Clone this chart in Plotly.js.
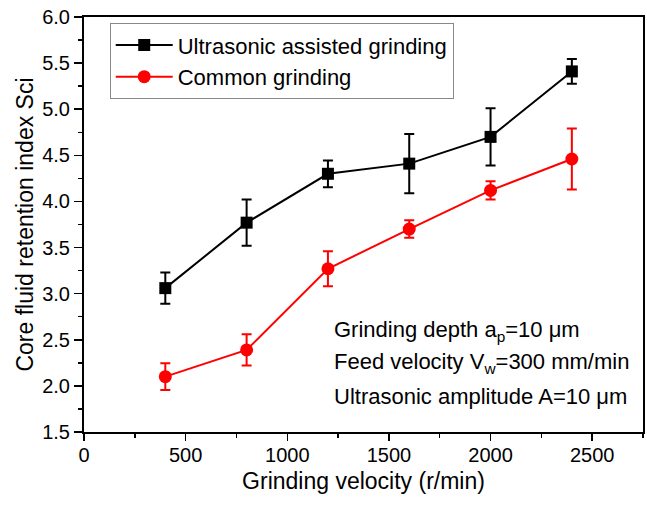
<!DOCTYPE html>
<html>
<head>
<meta charset="utf-8">
<script src="https://cdn.plot.ly/plotly-3.0.1.min.js"></script>
<style>
html, body { margin: 0; padding: 0; background: #fff; }
#chart { width: 647px; height: 505px; }
</style>
</head>
<body>
<div id="chart"></div>
<script>
// Data
const velocity = [400, 800, 1200, 1600, 2000, 2400];
const ultrasonicSci = [3.06, 3.77, 4.30, 4.41, 4.70, 5.41];
const ultrasonicErr = [0.17, 0.25, 0.145, 0.32, 0.31, 0.135];
const commonSci = [2.10, 2.39, 3.27, 3.70, 4.12, 4.46];
const commonErr = [0.145, 0.17, 0.19, 0.095, 0.10, 0.33];
const seriesNames = ['Ultrasonic assisted grinding', 'Common grinding'];
const conditionLines = [
  'Grinding depth a<sub>p</sub>=10 μm',
  'Feed velocity V<sub>w</sub>=300 mm/min',
  'Ultrasonic amplitude A=10 μm'
];
const conditionY = [2.60, 2.25, 1.89];

const FONT = 'Liberation Sans, Arial, sans-serif';

const traces = [
  {
    x: velocity, y: ultrasonicSci, name: seriesNames[0],
    type: 'scatter', mode: 'lines+markers',
    line: { color: '#000000', width: 2 },
    marker: { symbol: 'square', size: 12, color: '#000000' },
    error_y: { type: 'data', array: ultrasonicErr, visible: true, color: '#000000', thickness: 2, width: 5 }
  },
  {
    x: velocity, y: commonSci, name: seriesNames[1],
    type: 'scatter', mode: 'lines+markers',
    line: { color: '#ff0000', width: 2 },
    marker: { symbol: 'circle', size: 13, color: '#ff0000' },
    error_y: { type: 'data', array: commonErr, visible: true, color: '#ff0000', thickness: 2, width: 5 }
  }
];

const annotations = conditionLines.map((t, i) => ({
  x: 1220, y: conditionY[i], xref: 'x', yref: 'y',
  text: t, showarrow: false, xanchor: 'left', yanchor: 'middle', align: 'left',
  font: { family: FONT, size: 22, color: '#000000' }
}));

const layout = {
  width: 647, height: 505,
  margin: { l: 84, r: 4, t: 17, b: 73 },
  paper_bgcolor: '#ffffff', plot_bgcolor: '#ffffff',
  font: { family: FONT, color: '#000000' },
  showlegend: true,
  legend: {
    x: 0.046, y: 0.985, xanchor: 'left', yanchor: 'top',
    bgcolor: '#ffffff', bordercolor: '#888888', borderwidth: 1,
    font: { family: FONT, size: 22, color: '#000000' },
    itemwidth: 57,
    tracegroupgap: 0
  },
  xaxis: {
    range: [0, 2750], dtick: 500, tick0: 0,
    showgrid: false, zeroline: false,
    showline: true, linecolor: '#000000', linewidth: 2, mirror: true,
    ticks: 'outside', ticklen: 7, tickwidth: 1.5, tickcolor: '#000000',
    ticklabelstandoff: -3,
    tickfont: { family: FONT, size: 20, color: '#000000' },
    minor: { ticks: 'outside', ticklen: 4, tickwidth: 1.5, dtick: 250, tickcolor: '#000000' },
    title: { text: 'Grinding velocity (r/min)', font: { family: FONT, size: 23, color: '#000000' }, standoff: 8 }
  },
  yaxis: {
    range: [1.5, 6.0], dtick: 0.5, tick0: 1.5, tickformat: '.1f',
    showgrid: false, zeroline: false,
    showline: true, linecolor: '#000000', linewidth: 2, mirror: true,
    ticks: 'outside', ticklen: 8, tickwidth: 1.5, tickcolor: '#000000',
    tickfont: { family: FONT, size: 20, color: '#000000' },
    minor: { ticks: 'outside', ticklen: 4, tickwidth: 1.5, dtick: 0.25, tickcolor: '#000000' },
    title: { text: 'Core fluid retention index Sci', font: { family: FONT, size: 23, color: '#000000' }, standoff: 2 }
  },
  annotations: annotations
};

Plotly.newPlot('chart', traces, layout, { displayModeBar: false, staticPlot: true });
</script>
</body>
</html>
